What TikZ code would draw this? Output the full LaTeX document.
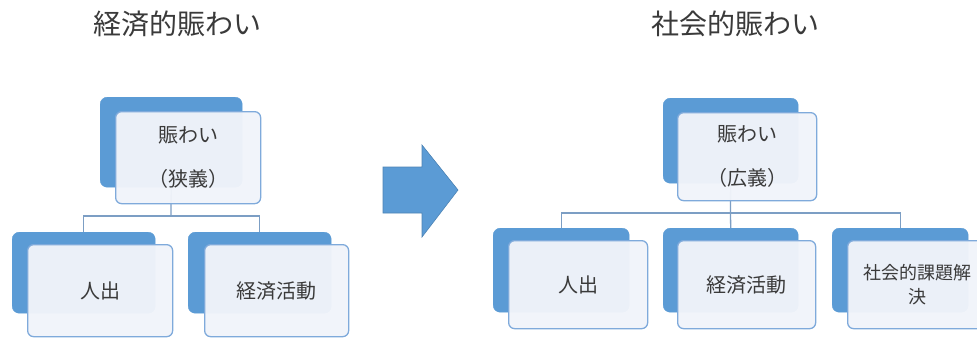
\documentclass[tikz,border=0pt]{standalone}
\usepackage{fontspec}
\setmainfont{Noto Sans CJK JP}
\definecolor{backblue}{HTML}{5B9BD5}
\definecolor{frontedge}{HTML}{7FAADB}
\definecolor{frontfill}{HTML}{F1F4FA}
\definecolor{linkcol}{HTML}{7C9EC4}
\definecolor{txt}{HTML}{3A3A3A}
\begin{document}
\begin{tikzpicture}[x=1pt,y=-1pt,
  backbox/.style={anchor=north west,fill=backblue,draw=backblue,rounded corners=7pt,inner sep=0pt},
  frontbox/.style={anchor=north west,fill=frontfill,fill opacity=0.96,text opacity=1,draw=frontedge,line width=1.3pt,rounded corners=6pt,inner sep=0pt,align=center,text=txt,font=\fontsize{20}{44}\selectfont},
  link/.style={draw=linkcol,line width=1.3pt},
  title/.style={text=txt,font=\fontsize{28}{30}\selectfont,inner sep=0pt}]
\useasboundingbox (0,0) rectangle (977,338);
\fill[white] (0,0) rectangle (977,338);
\begin{scope}
\clip (0,0) rectangle (977,338);
% titles
\node[title] (t1) at (177,24) {経済的賑わい};
\node[title] (t2) at (735,24) {社会的賑わい};
% left tree back boxes
\node[backbox,minimum width=142pt,minimum height=90pt] (lb0) at (100,97) {};
\node[backbox,minimum width=143pt,minimum height=81pt] (lb1) at (12,232) {};
\node[backbox,minimum width=143pt,minimum height=81pt] (lb2) at (188,232) {};
\coordinate (lj) at (171,216);
\draw[link] (lb0.south) -- (lj);
\draw[link] (lj) -| (lb1.north);
\draw[link] (lj) -| (lb2.north);
\node[frontbox,minimum width=145pt,minimum height=92pt] (lf0) at (115,111) {賑わい\\（狭義）};
\node[frontbox,minimum width=145pt,minimum height=92pt] (lf1) at (27,244) {人出};
\node[frontbox,minimum width=144pt,minimum height=92pt] (lf2) at (204,244) {経済活動};
% arrow
\fill[backblue,draw=backblue!85!black,line width=0.6pt] (383,167) -- (422,167) -- (422,145) -- (458,190) -- (422,237) -- (422,213) -- (383,213) -- cycle;
% right tree back boxes
\node[backbox,minimum width=135pt,minimum height=85pt] (rb0) at (663,98) {};
\node[backbox,minimum width=136pt,minimum height=84pt] (rb1) at (493,228) {};
\node[backbox,minimum width=135pt,minimum height=84pt] (rb2) at (663,228) {};
\node[backbox,minimum width=136pt,minimum height=84pt] (rb3) at (832,228) {};
\coordinate (rj) at (730.5,213);
\draw[link] (rb0.south) -- (rj);
\draw[link] (rj) -| (rb1.north);
\draw[link] (rj) -- (rb2.north);
\draw[link] (rj) -| (rb3.north);
\node[frontbox,minimum width=139pt,minimum height=88pt] (rf0) at (677,112) {賑わい\\（広義）};
\node[frontbox,minimum width=139pt,minimum height=88pt] (rf1) at (508,240) {人出};
\node[frontbox,minimum width=138pt,minimum height=88pt] (rf2) at (677,240) {経済活動};
\node[frontbox,minimum width=139pt,minimum height=88pt,font=\fontsize{18}{24}\selectfont] (rf3) at (847,240) {社会的課題解\\決};
\end{scope}
\end{tikzpicture}
\end{document}
